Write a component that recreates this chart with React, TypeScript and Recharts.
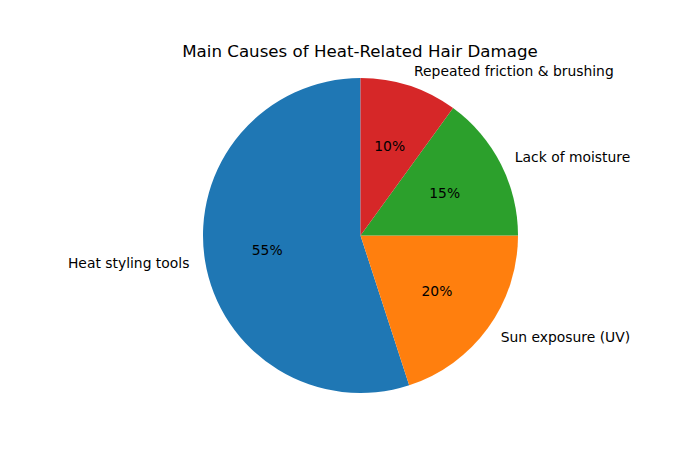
import React from "react";
import { PieChart, Pie, Cell } from "recharts";

const categories = ["Heat styling tools", "Sun exposure (UV)", "Lack of moisture", "Repeated friction & brushing"];
const shares = [55, 20, 15, 10];
const colors = ["#1f77b4", "#ff7f0e", "#2ca02c", "#d62728"];
const title = "Main Causes of Heat-Related Hair Damage";

const data = categories.map((name, i) => ({ name, value: shares[i] }));

const FONT = "'DejaVu Sans', sans-serif";
const RAD = Math.PI / 180;

const renderLabel = (props: any) => {
  const { cx, cy, midAngle, outerRadius, index, percent } = props;
  const cos = Math.cos(-midAngle * RAD);
  const sin = Math.sin(-midAngle * RAD);
  const lx = cx + outerRadius * 1.1 * cos;
  const ly = cy + outerRadius * 1.1 * sin;
  const px = cx + outerRadius * 0.6 * cos;
  const py = cy + outerRadius * 0.6 * sin;
  return (
    <g key={`lbl-${index}`}>
      <text
        x={lx}
        y={ly}
        dy="0.36em"
        textAnchor={cos >= 0 ? "start" : "end"}
        fontFamily={FONT}
        fontSize={13.89}
        fill="#000"
      >
        {categories[index]}
      </text>
      <text
        x={px}
        y={py}
        dy="0.36em"
        textAnchor="middle"
        fontFamily={FONT}
        fontSize={13.89}
        fill="#000"
      >
        {`${Math.round(percent * 100)}%`}
      </text>
    </g>
  );
};

export default function App() {
  return (
    <div style={{ position: "absolute", left: 0, top: 0, width: 700, height: 450, background: "#fff" }}>
      <PieChart width={700} height={450} margin={{ top: 0, right: 0, bottom: 0, left: 0 }}>
        <Pie
          data={data}
          dataKey="value"
          nameKey="name"
          cx={360.5}
          cy={235.5}
          outerRadius={157.5}
          innerRadius={0}
          startAngle={90}
          endAngle={450}
          stroke="none"
          label={renderLabel}
          labelLine={false}
          isAnimationActive={false}
        >
          {data.map((d, i) => (
            <Cell key={d.name} fill={colors[i]} />
          ))}
        </Pie>
      </PieChart>
      <svg
        width={700}
        height={450}
        style={{ position: "absolute", left: 0, top: 0, pointerEvents: "none" }}
      >
        <text x={360} y={56.5} textAnchor="middle" fontFamily={FONT} fontSize={16.67} fill="#000">
          {title}
        </text>
      </svg>
    </div>
  );
}
